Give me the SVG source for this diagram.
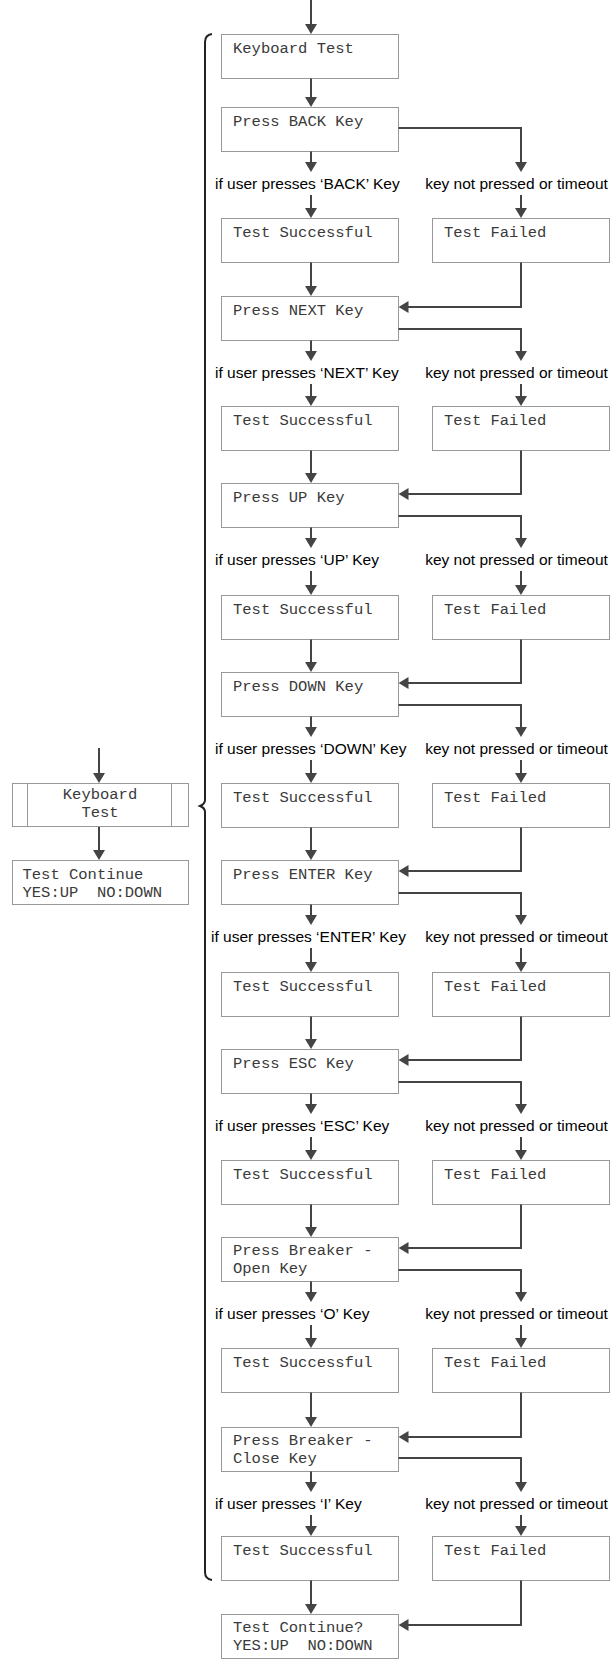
<svg xmlns="http://www.w3.org/2000/svg" width="610" height="1659" viewBox="0 0 610 1659">
<style>
.box{fill:#fff;stroke:#999;stroke-width:1}
.m{font-family:"Liberation Mono","Courier New",monospace;font-size:15.5px;fill:#3a3a3a}
.lbl{font-family:"Liberation Sans",Arial,sans-serif;font-size:15.5px;fill:#000}
.r{text-anchor:middle}
.c path{fill:none;stroke:#444;stroke-width:2;marker-end:url(#ah)}
</style>
<defs>
<marker id="ah" viewBox="0 0 10 12" refX="2" refY="6" markerWidth="10" markerHeight="12" markerUnits="userSpaceOnUse" orient="auto"><path d="M0,0 L10,6 L0,12 z" fill="#444"/></marker>
</defs>
<rect width="610" height="1659" fill="#fff"/>

<!-- brace -->
<path id="brace" d="M212 34 Q205 35 205 42 L205 800 Q205 804 200 806 Q205 808 205 812 L205 1572 Q205 1579 212 1580" fill="none" stroke="#222" stroke-width="2"/>

<!-- left side nodes -->
<g id="side-kb"><rect class="box" x="12.5" y="783.5" width="176" height="43"/><line x1="27.5" y1="783.5" x2="27.5" y2="826.5" stroke="#999"/><line x1="171.5" y1="783.5" x2="171.5" y2="826.5" stroke="#999"/><text class="m" x="100" y="799" text-anchor="middle">Keyboard</text><text class="m" x="100" y="817" text-anchor="middle">Test</text></g>
<g id="side-cont"><rect class="box" x="12.5" y="860.5" width="176" height="44"/><text class="m" x="22.5" y="879">Test Continue</text><text class="m" x="22.5" y="897" xml:space="preserve">YES:UP  NO:DOWN</text></g>

<!-- main nodes -->
<g id="kb"><rect class="box" x="221.5" y="34.5" width="177" height="44"/><text class="m" x="233" y="53">Keyboard Test</text></g>

<g id="p0"><rect class="box" x="221.5" y="107.5" width="177" height="44"/><text class="m" x="233" y="126">Press BACK Key</text></g>
<g id="s0"><rect class="box" x="221.5" y="218.5" width="177" height="44"/><text class="m" x="233" y="237">Test Successful</text></g>
<g id="f0"><rect class="box" x="432.5" y="218.5" width="177" height="44"/><text class="m" x="444" y="237">Test Failed</text></g>

<g id="p1"><rect class="box" x="221.5" y="296.5" width="177" height="44"/><text class="m" x="233" y="315">Press NEXT Key</text></g>
<g id="s1"><rect class="box" x="221.5" y="406.5" width="177" height="44"/><text class="m" x="233" y="425">Test Successful</text></g>
<g id="f1"><rect class="box" x="432.5" y="406.5" width="177" height="44"/><text class="m" x="444" y="425">Test Failed</text></g>

<g id="p2"><rect class="box" x="221.5" y="483.5" width="177" height="44"/><text class="m" x="233" y="502">Press UP Key</text></g>
<g id="s2"><rect class="box" x="221.5" y="595.5" width="177" height="44"/><text class="m" x="233" y="614">Test Successful</text></g>
<g id="f2"><rect class="box" x="432.5" y="595.5" width="177" height="44"/><text class="m" x="444" y="614">Test Failed</text></g>

<g id="p3"><rect class="box" x="221.5" y="672.5" width="177" height="44"/><text class="m" x="233" y="691">Press DOWN Key</text></g>
<g id="s3"><rect class="box" x="221.5" y="783.5" width="177" height="44"/><text class="m" x="233" y="802">Test Successful</text></g>
<g id="f3"><rect class="box" x="432.5" y="783.5" width="177" height="44"/><text class="m" x="444" y="802">Test Failed</text></g>

<g id="p4"><rect class="box" x="221.5" y="860.5" width="177" height="44"/><text class="m" x="233" y="879">Press ENTER Key</text></g>
<g id="s4"><rect class="box" x="221.5" y="972.5" width="177" height="44"/><text class="m" x="233" y="991">Test Successful</text></g>
<g id="f4"><rect class="box" x="432.5" y="972.5" width="177" height="44"/><text class="m" x="444" y="991">Test Failed</text></g>

<g id="p5"><rect class="box" x="221.5" y="1049.5" width="177" height="44"/><text class="m" x="233" y="1068">Press ESC Key</text></g>
<g id="s5"><rect class="box" x="221.5" y="1160.5" width="177" height="44"/><text class="m" x="233" y="1179">Test Successful</text></g>
<g id="f5"><rect class="box" x="432.5" y="1160.5" width="177" height="44"/><text class="m" x="444" y="1179">Test Failed</text></g>

<g id="p6"><rect class="box" x="221.5" y="1237.5" width="177" height="44"/><text class="m" x="233" y="1255">Press Breaker -</text><text class="m" x="233" y="1273">Open Key</text></g>
<g id="s6"><rect class="box" x="221.5" y="1348.5" width="177" height="44"/><text class="m" x="233" y="1367">Test Successful</text></g>
<g id="f6"><rect class="box" x="432.5" y="1348.5" width="177" height="44"/><text class="m" x="444" y="1367">Test Failed</text></g>

<g id="p7"><rect class="box" x="221.5" y="1427.5" width="177" height="44"/><text class="m" x="233" y="1445">Press Breaker -</text><text class="m" x="233" y="1463">Close Key</text></g>
<g id="s7"><rect class="box" x="221.5" y="1536.5" width="177" height="44"/><text class="m" x="233" y="1555">Test Successful</text></g>
<g id="f7"><rect class="box" x="432.5" y="1536.5" width="177" height="44"/><text class="m" x="444" y="1555">Test Failed</text></g>

<g id="final"><rect class="box" x="221.5" y="1614.5" width="177" height="44"/><text class="m" x="233" y="1632">Test Continue?</text><text class="m" x="233" y="1650" xml:space="preserve">YES:UP  NO:DOWN</text></g>

<!-- labels -->
<g id="labels">
<text class="lbl" x="215" y="189">if user presses ‘BACK’ Key</text><text class="lbl r" x="516.5" y="189">key not pressed or timeout</text>
<text class="lbl" x="215" y="378">if user presses ‘NEXT’ Key</text><text class="lbl r" x="516.5" y="378">key not pressed or timeout</text>
<text class="lbl" x="215" y="565">if user presses ‘UP’ Key</text><text class="lbl r" x="516.5" y="565">key not pressed or timeout</text>
<text class="lbl" x="215" y="754">if user presses ‘DOWN’ Key</text><text class="lbl r" x="516.5" y="754">key not pressed or timeout</text>
<text class="lbl" x="211" y="942">if user presses ‘ENTER’ Key</text><text class="lbl r" x="516.5" y="942">key not pressed or timeout</text>
<text class="lbl" x="215" y="1131">if user presses ‘ESC’ Key</text><text class="lbl r" x="516.5" y="1131">key not pressed or timeout</text>
<text class="lbl" x="215" y="1319">if user presses ‘O’ Key</text><text class="lbl r" x="516.5" y="1319">key not pressed or timeout</text>
<text class="lbl" x="215" y="1509">if user presses ‘I’ Key</text><text class="lbl r" x="516.5" y="1509">key not pressed or timeout</text>
</g>

<!-- connectors -->
<g id="connectors" class="c">
<path d="M99 748 V775"/>
<path d="M99 827 V852"/>
<path d="M311 0 V26"/>
<path d="M311 78.5 V99"/>

<path d="M311 151.5 V164"/><path d="M398.5 128 H521 V164"/>
<path d="M311 195 V210"/><path d="M521 195 V210"/>
<path d="M311 262.5 V288"/><path d="M521 262.5 V307 H406.5"/>

<path d="M311 340.5 V353"/><path d="M398.5 329 H521 V353"/>
<path d="M311 384 V398"/><path d="M521 384 V398"/>
<path d="M311 450.5 V475"/><path d="M521 450.5 V494 H406.5"/>

<path d="M311 527.5 V540"/><path d="M398.5 516 H521 V540"/>
<path d="M311 571 V587"/><path d="M521 571 V587"/>
<path d="M311 639.5 V664"/><path d="M521 639.5 V683 H406.5"/>

<path d="M311 716.5 V729"/><path d="M398.5 705 H521 V729"/>
<path d="M311 760 V775"/><path d="M521 760 V775"/>
<path d="M311 827.5 V852"/><path d="M521 827.5 V871 H406.5"/>

<path d="M311 904.5 V917"/><path d="M398.5 893 H521 V917"/>
<path d="M311 948 V964"/><path d="M521 948 V964"/>
<path d="M311 1016.5 V1041"/><path d="M521 1016.5 V1060 H406.5"/>

<path d="M311 1093.5 V1106"/><path d="M398.5 1082 H521 V1106"/>
<path d="M311 1137 V1152"/><path d="M521 1137 V1152"/>
<path d="M311 1204.5 V1229"/><path d="M521 1204.5 V1248 H406.5"/>

<path d="M311 1281.5 V1294"/><path d="M398.5 1270 H521 V1294"/>
<path d="M311 1325 V1340"/><path d="M521 1325 V1340"/>
<path d="M311 1392.5 V1419"/><path d="M521 1392.5 V1437 H406.5"/>

<path d="M311 1471.5 V1484"/><path d="M398.5 1458 H521 V1484"/>
<path d="M311 1515 V1528"/><path d="M521 1515 V1528"/>
<path d="M311 1580.5 V1606"/><path d="M521 1580.5 V1625 H406.5"/>
</g>
</svg>
